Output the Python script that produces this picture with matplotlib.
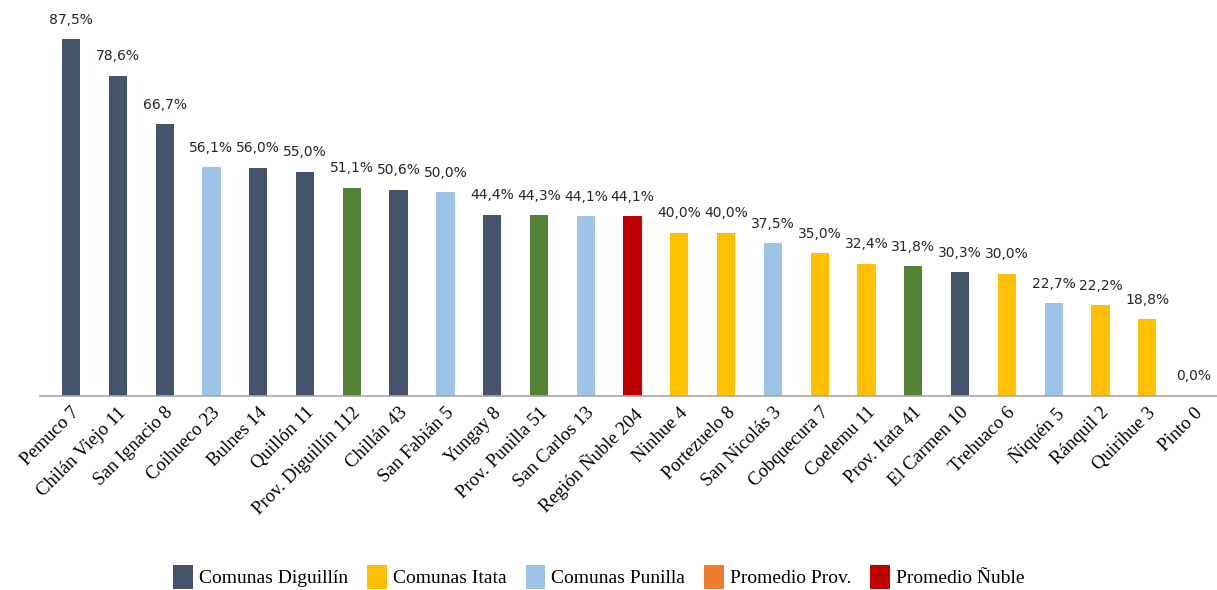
import matplotlib
matplotlib.use("Agg")
import matplotlib.pyplot as plt
from matplotlib.patches import Patch

# Porcentaje por comuna (con n entre los nombres)
CATEGORIES = ["Pemuco 7", "Chilán Viejo 11", "San Ignacio 8", "Coihueco 23", "Bulnes 14",
              "Quillón 11", "Prov. Diguillín 112", "Chillán 43", "San Fabián 5", "Yungay 8",
              "Prov. Punilla 51", "San Carlos 13", "Región Ñuble 204", "Ninhue 4",
              "Portezuelo 8", "San Nicolás 3", "Cobquecura 7", "Coelemu 11", "Prov. Itata 41",
              "El Carmen 10", "Trehuaco 6", "Ñiquén 5", "Ránquil 2", "Quirihue 3", "Pinto 0"]
VALUES = [87.5, 78.6, 66.7, 56.1, 56.0, 55.0, 51.1, 50.6, 50.0, 44.4, 44.3, 44.1, 44.1,
          40.0, 40.0, 37.5, 35.0, 32.4, 31.8, 30.3, 30.0, 22.7, 22.2, 18.8, 0.0]
GROUPS = ["dig", "dig", "dig", "pun", "dig", "dig", "prov", "dig", "pun", "dig", "prov", "pun",
          "nub", "ita", "ita", "pun", "ita", "ita", "prov", "dig", "ita", "pun", "ita", "ita", "ita"]

COLORS = {"dig": "#44546A", "ita": "#FFC000", "pun": "#9DC3E6",
          "prov": "#548235", "nub": "#C00000"}
LEGEND = [("Comunas Diguillín", "#44546A"), ("Comunas Itata", "#FFC000"),
          ("Comunas Punilla", "#9DC3E6"), ("Promedio Prov.", "#ED7D31"),
          ("Promedio Ñuble", "#C00000")]

SERIF = ["Liberation Serif", "DejaVu Serif"]

fig = plt.figure(figsize=(12.17, 5.90), dpi=100)
ax = fig.add_axes([0.033, 0.329, 0.967, 0.656])

x = range(len(CATEGORIES))
bars = ax.bar(x, VALUES, width=0.39, color=[COLORS[g] for g in GROUPS])

for rect, v in zip(bars, VALUES):
    ax.annotate(f"{v:.1f}%".replace(".", ","),
                (rect.get_x() + rect.get_width() / 2, rect.get_height()),
                xytext=(0, 9), textcoords="offset points",
                ha="center", va="bottom", fontsize=10, color="#262626",
                family="DejaVu Sans")

ax.set_xlim(-0.66, 24.49)
ax.set_ylim(0, 95)
ax.set_xticks(list(x))
ax.set_xticklabels(CATEGORIES, rotation=45, ha="right", rotation_mode="anchor",
                   family=SERIF, fontsize=13.5)
ax.tick_params(axis="x", length=0, pad=6)
ax.set_yticks([])
for side in ["top", "right", "left"]:
    ax.spines[side].set_visible(False)
ax.spines["bottom"].set_color("#A6A6A6")
ax.spines["bottom"].set_linewidth(1.2)

handles = [Patch(facecolor=c, label=l) for l, c in LEGEND]
fig.legend(handles=handles, loc="center", bbox_to_anchor=(0.492, 0.022), ncol=5,
           frameon=False, prop={"family": SERIF, "size": 14},
           handlelength=1.0, handleheight=1.5, handletextpad=0.3, columnspacing=1.0)

fig.savefig("out.png", dpi=100)
